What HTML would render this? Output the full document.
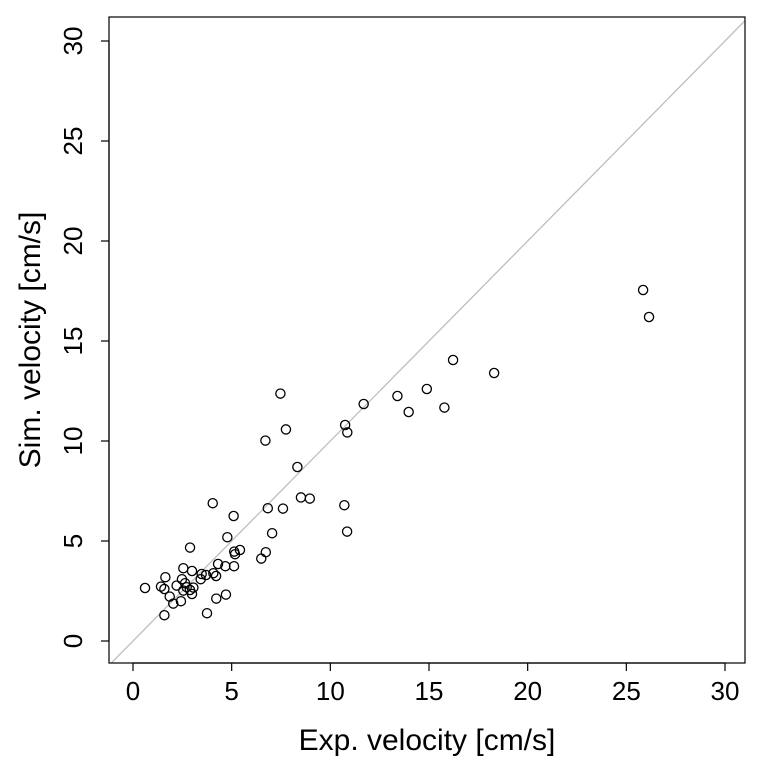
<!DOCTYPE html>
<html><head><meta charset="utf-8"><style>
html,body{margin:0;padding:0;background:#fff;}
svg{display:block;font-family:"Liberation Sans",Arial,sans-serif;}
</style></head><body>
<svg id="chart" width="765" height="772"></svg>
<script>
const xTicks=[0,5,10,15,20,25,30];
const yTicks=[0,5,10,15,20,25,30];
const expVel=[4.04,5.10,2.89,4.78,6.83,7.60,7.05,5.42,5.13,5.17,6.73,6.50,4.31,4.68,5.12,2.55,2.99,1.64,3.48,3.70,4.07,4.21,3.43,2.48,0.61,1.42,1.59,2.21,2.64,2.72,3.06,2.55,2.89,2.99,1.86,2.43,2.04,4.71,4.22,1.59,3.75,7.47,7.75,6.71,11.69,10.75,10.86,8.33,8.51,8.96,10.71,10.85,13.40,13.97,14.89,15.78,16.22,18.30,25.85,26.15];
const simVel=[6.89,6.25,4.67,5.19,6.64,6.62,5.39,4.55,4.47,4.34,4.44,4.12,3.85,3.74,3.74,3.64,3.50,3.19,3.35,3.30,3.39,3.25,3.09,3.09,2.65,2.72,2.60,2.77,2.89,2.69,2.67,2.52,2.55,2.35,2.22,1.99,1.87,2.32,2.12,1.29,1.39,12.37,10.58,10.02,11.85,10.80,10.43,8.70,7.18,7.12,6.79,5.47,12.25,11.45,12.60,11.67,14.05,13.40,17.55,16.20];
const NS="http://www.w3.org/2000/svg";
const svg=document.getElementById('chart');
const L=109,R=745,T=17,B=663;
const xs=v=>133+v*(725-133)/30;
const ys=v=>641-v*20;
function mk(tag,attrs,parent){const e=document.createElementNS(NS,tag);for(const k in attrs)e.setAttribute(k,attrs[k]);(parent||svg).appendChild(e);return e;}
const defs=mk('defs',{});const cp=mk('clipPath',{id:'cp'},defs);mk('rect',{x:L,y:T,width:R-L,height:B-T},cp);
const line=mk('line',{x1:xs(-2),y1:ys(-2),x2:xs(35),y2:ys(35),stroke:'#bebebe','stroke-width':1.3,'clip-path':'url(#cp)'});


const box=mk('rect',{x:L,y:T,width:R-L,height:B-T,fill:'none',stroke:'#000','stroke-width':1.2});


mk('line',{x1:xs(0),y1:B,x2:xs(30),y2:B,stroke:'#000','stroke-width':1.2});
xTicks.forEach(t=>{
  mk('line',{x1:xs(t),y1:B,x2:xs(t),y2:B+8,stroke:'#000','stroke-width':1.2});
  const tx=mk('text',{x:xs(t),y:B+37,'font-size':26,'text-anchor':'middle'});
  tx.textContent=t;
  
  
});
mk('line',{x1:L,y1:ys(0),x2:L,y2:ys(30),stroke:'#000','stroke-width':1.2});
yTicks.forEach(t=>{
  mk('line',{x1:L,y1:ys(t),x2:L-8,y2:ys(t),stroke:'#000','stroke-width':1.2});
  const tx=mk('text',{x:0,y:0,'font-size':26,'text-anchor':'middle',transform:`translate(${L-27},${ys(t)}) rotate(-90)`});
  tx.textContent=t;
  
  
});
const xt=mk('text',{x:(L+R)/2,y:750,'font-size':30,'text-anchor':'middle'});
xt.textContent='Exp. velocity [cm/s]';


const yt=mk('text',{x:0,y:0,'font-size':30,'text-anchor':'middle',transform:`translate(40,${(T+B)/2}) rotate(-90)`});
yt.textContent='Sim. velocity [cm/s]';


expVel.forEach((v,i)=>{
  const c=mk('circle',{cx:xs(v),cy:ys(simVel[i]),r:4.6,fill:'none',stroke:'#000','stroke-width':1.3});
  
  
});
</script>
</body></html>
